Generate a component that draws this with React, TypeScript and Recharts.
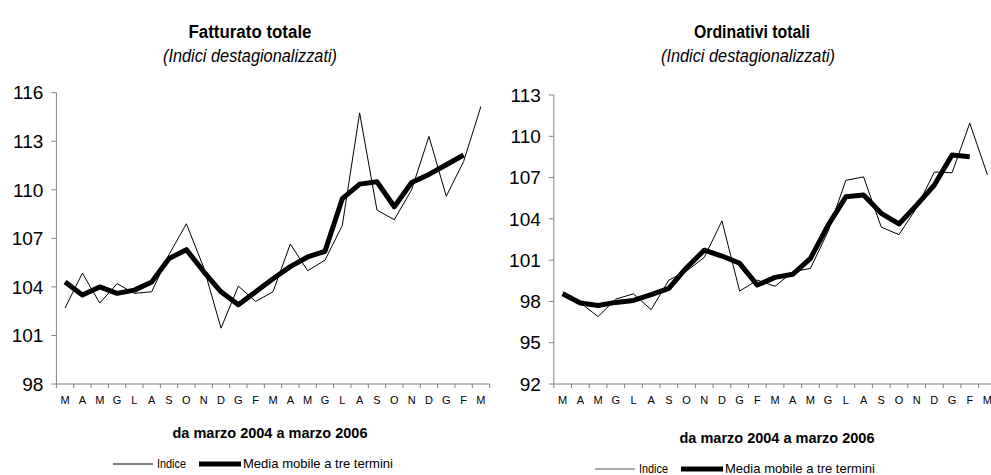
import React from "react";
import { LineChart, Line, XAxis, YAxis } from "recharts";

const months = ["M", "A", "M", "G", "L", "A", "S", "O", "N", "D", "G", "F", "M", "A", "M", "G", "L", "A", "S", "O", "N", "D", "G", "F", "M"];

const fatturatoIndice = [102.7, 104.85, 103.0, 104.2, 103.6, 103.7, 106.0, 107.9, 105.2, 101.45, 104.05, 103.1, 103.7, 106.65, 105.0, 105.65, 107.8, 114.75, 108.75, 108.15, 110.0, 113.3, 109.6, 111.75, 115.15];
const fatturatoMedia = [104.3, 103.5, 104.0, 103.6, 103.8, 104.3, 105.75, 106.3, 104.95, 103.7, 102.9, 103.7, 104.5, 105.25, 105.85, 106.2, 109.45, 110.35, 110.5, 108.95, 110.45, 110.95, 111.55, 112.15, null];

const ordinativiIndice = [98.7, 97.9, 96.9, 98.17, 98.55, 97.4, 99.55, 100.2, 101.2, 103.85, 98.75, 99.55, 99.1, 100.15, 100.4, 103.1, 106.8, 107.05, 103.4, 102.85, 104.8, 107.4, 107.35, 110.95, 107.2];
const ordinativiMedia = [98.56, 97.88, 97.71, 97.93, 98.07, 98.49, 98.95, 100.45, 101.72, 101.3, 100.77, 99.19, 99.75, 99.97, 101.13, 103.55, 105.6, 105.73, 104.4, 103.63, 105.0, 106.46, 108.64, 108.52, null];

const fatturatoTicks = [98, 101, 104, 107, 110, 113, 116];
const ordinativiTicks = [92, 95, 98, 101, 104, 107, 110, 113];

const FONT = "'Liberation Sans', Arial, sans-serif";
const AXIS = "#808080";
const monthIdx = months.map((_, i) => i);

type PanelProps = {
  indice: number[];
  media: (number | null)[];
  ticks: number[];
  left: number;
  width: number;
  top: number;
  yWidth: number;
  rightGap: number;
};

function Panel({ indice, media, ticks, left, width, top, yWidth, rightGap }: PanelProps) {
  const data = months.map((m, i) => ({ i, m, indice: indice[i], media: media[i] }));
  // mezza categoria in px, per mettere le tacche tra un mese e l'altro
  const half = (width - yWidth - rightGap) / months.length / 2;

  const MonthTick = (p: any) => {
    const { x, y, payload, index } = p;
    const axisY = y - 12;
    return (
      <g>
        <line x1={x - half} x2={x - half} y1={axisY} y2={axisY + 4} stroke={AXIS} />
        {index === months.length - 1 && (
          <line x1={x + half} x2={x + half} y1={axisY} y2={axisY + 4} stroke={AXIS} />
        )}
        <text x={x} y={y} dy="0.71em" textAnchor="middle" fontSize={11} fill="#000" fontFamily={FONT}>
          {months[payload.value]}
        </text>
      </g>
    );
  };

  return (
    <div style={{ position: "absolute", left, top: 0 }}>
      <LineChart width={width} height={475} data={data} margin={{ top, right: rightGap, bottom: 61, left: 0 }}>
        <XAxis
          dataKey="i"
          type="number"
          domain={[-0.5, months.length - 0.5]}
          allowDataOverflow
          ticks={monthIdx}
          interval={0}
          height={30}
          tickSize={4}
          tickMargin={8}
          tickLine={false}
          stroke={AXIS}
          tick={MonthTick}
        />
        <YAxis
          type="number"
          domain={[ticks[0], ticks[ticks.length - 1]]}
          ticks={ticks}
          interval={0}
          allowDataOverflow
          width={yWidth}
          tickSize={5}
          tickMargin={8}
          stroke={AXIS}
          tick={{ fill: "#000", fontSize: 19, fontFamily: FONT }}
        />
        <Line dataKey="indice" stroke="#000" strokeWidth={1} dot={false} isAnimationActive={false} />
        <Line
          dataKey="media"
          stroke="#000"
          strokeWidth={5}
          strokeLinejoin="round"
          dot={false}
          isAnimationActive={false}
        />
      </LineChart>
    </div>
  );
}

function Txt({ x, y, w, size, weight, italic, anchor = "middle", children }: any) {
  return (
    <text
      x={x}
      y={y}
      fontSize={size}
      fontWeight={weight}
      fontStyle={italic ? "italic" : "normal"}
      textAnchor={anchor}
      textLength={w}
      lengthAdjust="spacingAndGlyphs"
      fontFamily={FONT}
      fill="#000"
    >
      {children}
    </text>
  );
}

function Legend({ x, y, thin = "#000" }: { x: number; y: number; thin?: string }) {
  return (
    <g>
      <line x1={x} x2={x + 40} y1={y} y2={y} stroke={thin} strokeWidth={1} />
      <Txt x={x + 44} y={y + 4} w={29} size={13} anchor="start">Indice</Txt>
      <line x1={x + 86} x2={x + 128} y1={y} y2={y} stroke="#000" strokeWidth={5} />
      <Txt x={x + 130} y={y + 4} w={150} size={13} anchor="start">Media mobile a tre termini</Txt>
    </g>
  );
}

export default function App() {
  return (
    <div
      style={{
        position: "fixed",
        left: 0,
        top: 0,
        width: 991,
        height: 475,
        overflow: "hidden",
        background: "#fff",
      }}
    >
      <Panel
        indice={fatturatoIndice}
        media={fatturatoMedia}
        ticks={fatturatoTicks}
        left={0}
        width={500}
        top={92.7}
        yWidth={56.4}
        rightGap={10.4}
      />
      <Panel
        indice={ordinativiIndice}
        media={ordinativiMedia}
        ticks={ordinativiTicks}
        left={500}
        width={510}
        top={95}
        yWidth={53.8}
        rightGap={13.7}
      />
      <svg width={991} height={475} style={{ position: "absolute", left: 0, top: 0, pointerEvents: "none" }}>
        <Txt x={250} y={38} w={123} size={18} weight="bold">Fatturato totale</Txt>
        <Txt x={250} y={62} w={174} size={18} italic>(Indici destagionalizzati)</Txt>
        <Txt x={752} y={38} w={116} size={18} weight="bold">Ordinativi totali</Txt>
        <Txt x={748} y={62} w={174} size={18} italic>(Indici destagionalizzati)</Txt>
        <Txt x={270} y={438} w={195} size={15} weight="bold">da marzo 2004 a marzo 2006</Txt>
        <Txt x={777} y={443} w={195} size={15} weight="bold">da marzo 2004 a marzo 2006</Txt>
        <Legend x={113} y={464} />
        <Legend x={595} y={469} thin="#555" />
      </svg>
    </div>
  );
}
